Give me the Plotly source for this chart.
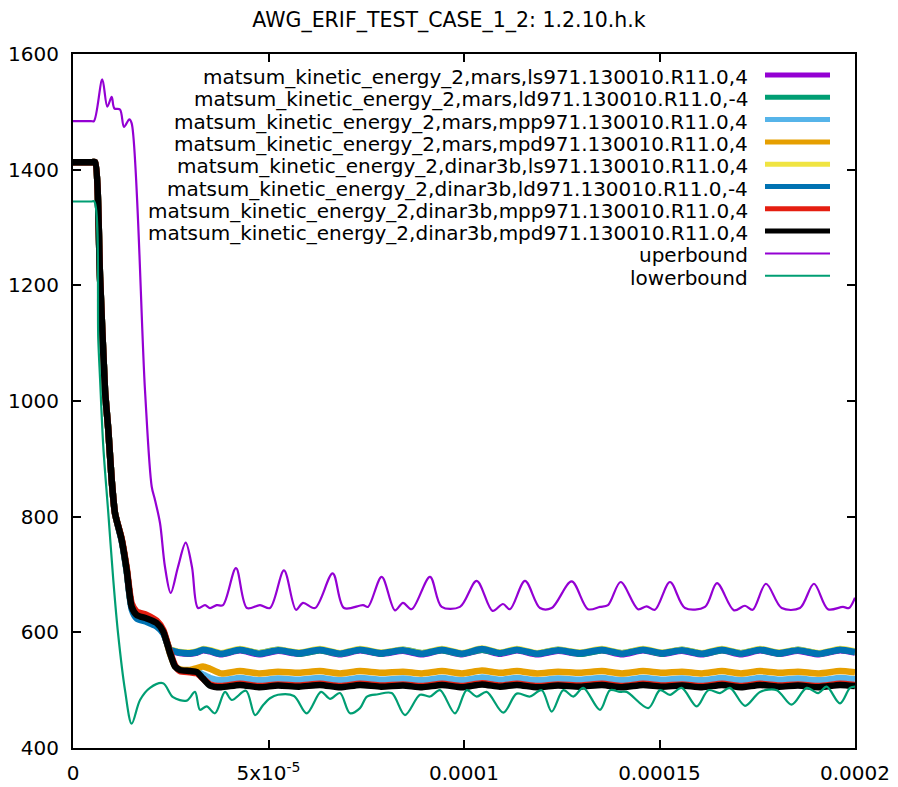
import numpy as np
import plotly.graph_objects as go

# ---------------- data (time in microseconds, energy values) ----------------
title_text = "AWG_ERIF_TEST_CASE_1_2: 1.2.10.h.k"

series_names = [
    "matsum_kinetic_energy_2,mars,ls971.130010.R11.0,4",
    "matsum_kinetic_energy_2,mars,ld971.130010.R11.0,-4",
    "matsum_kinetic_energy_2,mars,mpp971.130010.R11.0,4",
    "matsum_kinetic_energy_2,mars,mpd971.130010.R11.0,4",
    "matsum_kinetic_energy_2,dinar3b,ls971.130010.R11.0,4",
    "matsum_kinetic_energy_2,dinar3b,ld971.130010.R11.0,-4",
    "matsum_kinetic_energy_2,dinar3b,mpp971.130010.R11.0,4",
    "matsum_kinetic_energy_2,dinar3b,mpd971.130010.R11.0,4",
    "uperbound",
    "lowerbound",
]
series_colors = ["#9400d3", "#009e73", "#56b4e9", "#e69f00", "#f0e442",
                 "#0072b2", "#e51e10", "#000000", "#9400d3", "#009e73"]

t_thick_us = [0, 4.9, 5.63, 6.91, 8.18, 9.03, 9.90, 10.74, 12.45, 13.73, 15.01, 16.29, 18.85,
              21.41, 23.09, 24.81, 26.09, 27.36, 29.92, 31.71, 33.25, 35.04, 37.85, 42.71,
              47.57, 52.43, 57.80, 63.17, 68.29, 73.40, 78.77, 84.40, 89.26, 94.37, 99.49,
              104.60, 109.20, 113.55, 118.67, 124.04, 129.67, 135.29, 140.41, 145.78,
              150.64, 155.75, 160.87, 165.98, 170.84, 175.70, 180.56, 185.42, 190.79,
              196.16, 200.00]

early_main = [1413, 1413, 1413, 1215, 1019, 950, 863, 806, 760, 708, 644, 630, 624, 616, 601]
early_blue = [1413, 1413, 1413, 1215, 1019, 950, 863, 806, 758, 705, 640, 624, 618, 610, 598]
early_red = [1413, 1413, 1413, 1215, 1019, 950, 863, 806, 762, 712, 650, 636, 630, 620, 604]

tail_mars_ls = [569, 566, 564, 563, 565, 569, 567, 562,
                569, 562, 568, 563, 569, 562, 569, 563, 568, 562, 569, 562, 570, 563, 569, 562,
                568, 563, 569, 562, 569, 563, 568, 562, 569, 562, 569, 563, 568, 562, 569, 565]
tail_mars_ld = [570, 567, 565, 564, 566, 570, 568, 563,
                570, 564, 570, 563, 569, 563, 570, 563, 570, 564, 569, 563, 570, 564, 570, 563,
                570, 563, 569, 564, 570, 563, 570, 563, 569, 564, 570, 563, 570, 563, 570, 566]
tail_mars_mpp = [563, 541, 535, 534, 532, 527, 521, 517,
                 521, 517, 520, 518, 521, 517, 521, 518, 520, 517, 521, 517, 522, 518, 521, 517,
                 520, 518, 521, 517, 521, 518, 520, 517, 521, 517, 521, 518, 520, 517, 521, 519]
tail_mars_mpd = [563, 541, 536, 535, 538, 541, 537, 529,
                 533, 529, 532, 530, 533, 529, 533, 530, 532, 529, 533, 529, 534, 530, 533, 529,
                 532, 530, 533, 529, 533, 530, 532, 529, 533, 529, 533, 530, 532, 529, 533, 531]
tail_dinar_ls = [571, 568, 566, 565, 567, 571, 569, 564,
                 571, 564, 570, 565, 571, 564, 571, 565, 570, 564, 571, 564, 572, 565, 571, 564,
                 570, 565, 571, 564, 571, 565, 570, 564, 571, 564, 571, 565, 570, 564, 571, 567]
tail_dinar_ld = [570, 567, 565, 564, 566, 570, 568, 563,
                 570, 563, 569, 564, 570, 563, 570, 564, 569, 563, 570, 563, 571, 564, 570, 563,
                 569, 564, 570, 563, 570, 564, 569, 563, 570, 563, 570, 564, 569, 563, 570, 566]
tail_dinar_mpp = [566, 543, 533, 531, 529, 520, 510, 507,
                  511, 507, 510, 508, 511, 507, 511, 508, 510, 507, 511, 507, 512, 508, 511, 507,
                  510, 508, 511, 507, 511, 508, 510, 507, 511, 507, 511, 508, 510, 507, 511, 509]
tail_dinar_mpd = [564, 541, 535, 533, 531, 520, 508, 505,
                  509, 505, 508, 506, 509, 505, 509, 506, 508, 505, 509, 505, 510, 506, 509, 505,
                  508, 506, 509, 505, 509, 506, 508, 505, 509, 505, 509, 506, 508, 505, 509, 507]

t_upper_us = [0, 4.6, 5.37, 7.49, 8.77, 9.90, 10.56, 12.02, 13.04, 14.40, 15.01, 18.41, 20.13,
              20.97, 22.25, 23.53, 24.99, 26.85, 28.82, 30.43, 31.97, 33.76, 35.04, 36.75,
              38.36, 41.69, 44.50, 47.83, 50.38, 53.96, 57.03, 58.82, 61.89, 66.42, 69.31,
              74.17, 75.45, 78.95, 82.35, 84.40, 86.62, 91.30, 94.29, 98.97, 103.24, 107.31,
              109.97, 111.76, 115.60, 119.43, 122.42, 127.52, 131.71, 134.78, 136.83, 140.07,
              144.50, 146.72, 148.85, 152.68, 156.52, 161.63, 164.70, 169.05, 171.86, 173.83,
              177.23, 181.25, 185.92, 189.50, 193.09, 196.92, 198.46, 200.00]
upperbound = [1484, 1484, 1484, 1556, 1509, 1526, 1506, 1504, 1474, 1487, 1480, 1019, 852,
              829, 789, 713, 668, 713, 755, 713, 642, 647, 642, 647,
              647, 711, 642, 647, 642, 707, 639, 651, 642, 702, 642,
              647, 644, 696, 638, 651, 640, 696, 644, 644, 689, 637,
              649, 640, 689, 642, 642, 688, 640, 644, 647, 687,
              640, 645, 639, 687, 642, 644, 685, 638, 646, 639,
              684, 642, 642, 684, 640, 644, 642, 660]

t_lower_us = [0, 4.7, 5.45, 6.47, 6.91, 7.75, 9.03, 10.31, 11.51, 13.30, 15.01, 17.14, 19.69,
              23.02, 25.58, 29.08, 31.20, 32.48, 34.19, 36.32, 38.87, 40.59, 44.24, 46.55,
              48.59, 50.38, 52.43, 56.52, 59.77, 63.43, 65.73, 68.29, 70.84, 73.40, 75.19,
              78.00, 81.51, 84.91, 88.75, 91.30, 93.86, 97.70, 100.69, 103.24, 105.80, 110.05,
              113.48, 116.88, 119.87, 122.43, 125.40, 127.95, 130.51, 134.78, 137.34, 139.90,
              141.61, 147.13, 150.12, 152.68, 155.67, 159.51, 162.48, 165.47, 168.03, 171.86,
              175.70, 179.97, 183.80, 187.64, 190.61, 192.76, 196.16, 198.72, 200.00]
lowerbound = [1345, 1345, 1345, 1105, 1040, 921, 806, 690, 599, 500, 442, 483, 504,
              512, 488, 482, 497, 466, 472, 460, 497, 483, 499, 457,
              474, 486, 492, 490, 460, 497, 485, 495, 460, 469, 489,
              493, 495, 457, 492, 489, 500, 460, 500, 489, 497, 461,
              494, 489, 500, 463, 500, 489, 504, 466, 500, 497,
              497, 469, 500, 492, 504, 472, 500, 495, 504, 473,
              497, 500, 475, 504, 495, 506, 477, 504, 506]

x_tickvals = [0, 5e-5, 1e-4, 1.5e-4, 2e-4]
x_ticktext = ["0", "5x10<sup>-5</sup>", "0.0001", "0.00015", "0.0002"]
y_tickvals = [400, 600, 800, 1000, 1200, 1400, 1600]

# ---------------- figure ----------------
FONT = "DejaVu Sans"
FS = 20
thick_values = [
    early_main + tail_mars_ls,
    early_main + tail_mars_ld,
    early_main + tail_mars_mpp,
    early_main + tail_mars_mpd,
    early_main + tail_dinar_ls,
    early_blue + tail_dinar_ld,
    early_red + tail_dinar_mpp,
    early_main + tail_dinar_mpd,
]
t_thick = np.array(t_thick_us) * 1e-6

fig = go.Figure()
for name, color, vals in zip(series_names[:8], series_colors[:8], thick_values):
    fig.add_trace(go.Scatter(x=t_thick, y=vals, mode="lines", name=name,
                             line=dict(color=color, width=6.5, shape="spline", smoothing=0.6),
                             showlegend=False))
fig.add_trace(go.Scatter(x=np.array(t_upper_us) * 1e-6, y=upperbound, mode="lines",
                         name=series_names[8], showlegend=False,
                         line=dict(color=series_colors[8], width=2.2, shape="spline", smoothing=0.9)))
fig.add_trace(go.Scatter(x=np.array(t_lower_us) * 1e-6, y=lowerbound, mode="lines",
                         name=series_names[9], showlegend=False,
                         line=dict(color=series_colors[9], width=2.2, shape="spline", smoothing=0.9)))

# gnuplot-style key: right-aligned text followed by a line sample
plot_l, plot_r, plot_t, plot_b = 73, 855, 54, 748
pw, ph = plot_r - plot_l, plot_b - plot_t
row0, row_step = 77, 22.3
text_right, samp_l, samp_r = 750, 765, 830
annotations = []
shapes = []
for i, (name, color) in enumerate(zip(series_names, series_colors)):
    py = row0 + i * row_step
    yp = (plot_b - py) / ph
    annotations.append(dict(text=name, xref="paper", yref="paper",
                            x=(text_right - plot_l) / pw, y=yp, xanchor="right",
                            yanchor="middle", showarrow=False,
                            font=dict(family=FONT, size=FS, color="black")))
    shapes.append(dict(type="line", xref="paper", yref="paper",
                       x0=(samp_l - plot_l) / pw, x1=(samp_r - plot_l) / pw,
                       y0=(plot_b - (py - 2)) / ph, y1=(plot_b - (py - 2)) / ph,
                       line=dict(color=color, width=5 if i < 8 else 2)))

axis_common = dict(showline=True, linecolor="black", linewidth=2, mirror="ticks",
                   ticks="inside", ticklen=8, tickwidth=1.5, tickcolor="black",
                   showgrid=False, zeroline=False, automargin=False,
                   tickfont=dict(family=FONT, size=FS, color="black"))

fig.update_layout(
    width=898, height=787,
    margin=dict(l=plot_l, r=898 - plot_r, t=plot_t, b=787 - plot_b),
    paper_bgcolor="white", plot_bgcolor="white",
    font=dict(family=FONT, size=FS, color="black"),
    title=dict(text=title_text, x=0.5, xref="container", xanchor="center",
               y=1 - 20 / 787, yref="container", yanchor="middle",
               font=dict(family=FONT, size=20.5, color="black")),
    showlegend=False,
    annotations=annotations,
    shapes=shapes,
    xaxis=dict(range=[0, 2e-4], tickvals=x_tickvals, ticktext=x_ticktext,
               ticklabelstandoff=6, **axis_common),
    yaxis=dict(range=[400, 1600], tickvals=y_tickvals, ticklabelstandoff=8, **axis_common),
)

fig.write_html("out.html", config={"displayModeBar": False},
               post_script="document.body.style.margin='0';")
